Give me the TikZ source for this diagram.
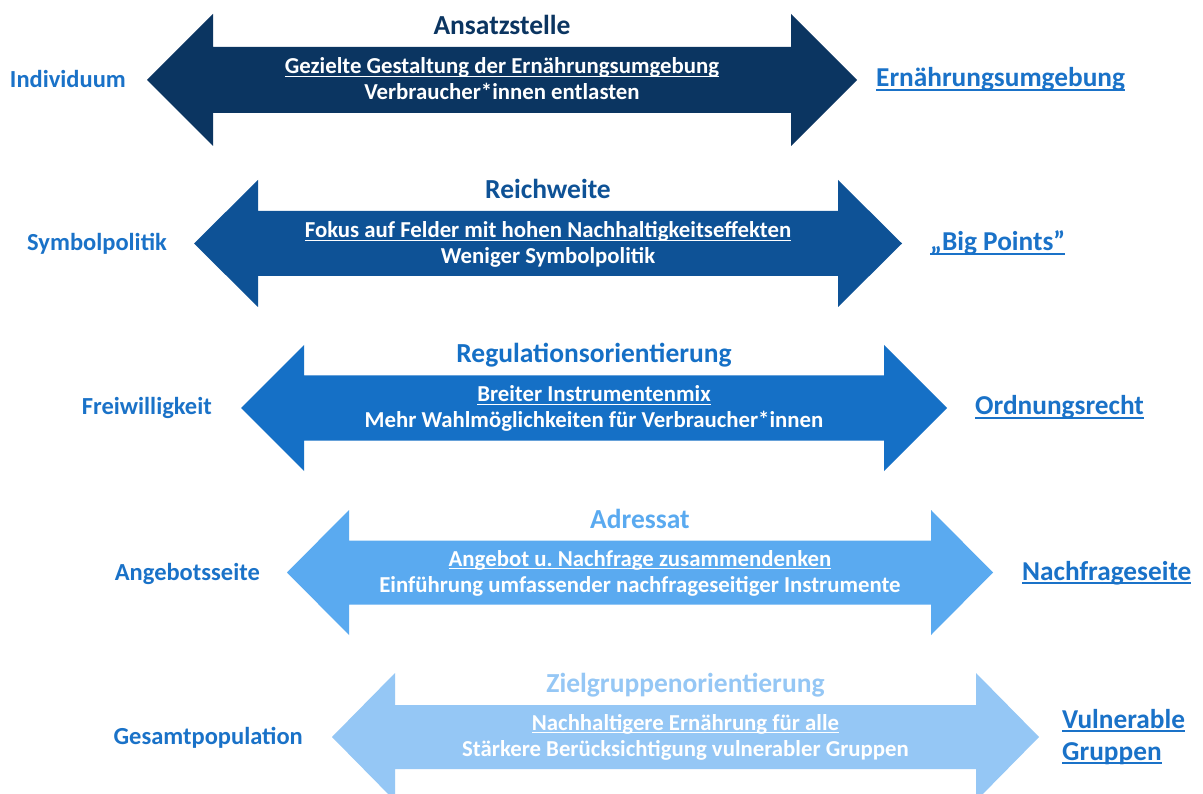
\documentclass[tikz,border=0pt]{standalone}
\usepackage{fontspec}
\setmainfont{Carlito}
\frenchspacing
\definecolor{cA}{HTML}{0B3561}
\definecolor{cB}{HTML}{0E5296}
\definecolor{cC}{HTML}{1570C6}
\definecolor{cD}{HTML}{5AAAF0}
\definecolor{cE}{HTML}{95C7F5}
\definecolor{sideblue}{HTML}{1A72C8}
\newcommand\myul[1]{\leavevmode\setbox0=\hbox{#1}\rlap{\rule[-0.14em]{\wd0}{0.065em}}\box0}
% #1 left tip x, #2 right tip x, #3 centre y, #4 head length, #5 head half height, #6 shaft half height, #7 colour
\newcommand\twoarrow[7]{%
  \fill[#7] (#1,#3) -- ({#1+#4},{#3-#5}) -- ({#1+#4},{#3-#6}) -- ({#2-#4},{#3-#6})
    -- ({#2-#4},{#3-#5}) -- (#2,#3) -- ({#2-#4},{#3+#5}) -- ({#2-#4},{#3+#6})
    -- ({#1+#4},{#3+#6}) -- ({#1+#4},{#3+#5}) -- cycle;}
\begin{document}
\begin{tikzpicture}[x=1pt,y=-1pt,
  titletext/.style={font=\bfseries\fontsize{27.5}{32}\selectfont, anchor=base, inner sep=0pt},
  bodytext/.style={text=white, font=\bfseries\fontsize{22.8}{26}\selectfont, anchor=base, inner sep=0pt},
  lefttext/.style={text=sideblue, font=\bfseries\fontsize{24.5}{29}\selectfont, anchor=base east, inner sep=0pt},
  righttext/.style={text=sideblue, font=\bfseries\fontsize{27.3}{32}\selectfont, anchor=base west, inner sep=0pt}]
\useasboundingbox (0,0) rectangle (1203,794);
\clip (0,0) rectangle (1203,794);
\fill[white] (0,0) rectangle (1203,794);

% arrows
\twoarrow{147}{857}{80}{66}{66}{33}{cA}
\twoarrow{194}{902}{243.5}{64}{63.5}{32.5}{cB}
\twoarrow{241}{947}{408}{63}{63}{32.5}{cC}
\twoarrow{287}{993}{572.5}{62}{62.5}{32}{cD}
\twoarrow{332}{1039}{737}{63}{64}{32}{cE}

% row 1
\node[titletext, text=cA] (t1) at (502,35) {Ansatzstelle};
\node[bodytext] (a1) at (502,74) {\myul{Gezielte Gestaltung der Ernährungsumgebung}};
\node[bodytext] (b1) at (502,100) {Verbraucher*innen entlasten};
\node[lefttext] (l1) at (126,88) {Individuum};
\node[righttext] (r1) at (876,87) {\myul{Ernährungsumgebung}};

% row 2
\node[titletext, text=cB] (t2) at (548,199) {Reichweite};
\node[bodytext] (a2) at (548,238) {\myul{Fokus auf Felder mit hohen Nachhaltigkeitseffekten}};
\node[bodytext] (b2) at (548,264) {Weniger Symbolpolitik};
\node[lefttext] (l2) at (167,251) {Symbolpolitik};
\node[righttext] (r2) at (930,251) {\myul{„Big Points”}};

% row 3
\node[titletext, text=cC] (t3) at (594,363) {Regulationsorientierung};
\node[bodytext] (a3) at (594,402) {\myul{Breiter Instrumentenmix}};
\node[bodytext] (b3) at (594,428) {Mehr Wahlmöglichkeiten für Verbraucher*innen};
\node[lefttext] (l3) at (212,415) {Freiwilligkeit};
\node[righttext] (r3) at (975,415) {\myul{Ordnungsrecht}};

% row 4
\node[titletext, text=cD] (t4) at (640,528) {Adressat};
\node[bodytext] (a4) at (640,566) {\myul{Angebot u. Nachfrage zusammendenken}};
\node[bodytext] (b4) at (640,592) {Einführung umfassender nachfrageseitiger Instrumente};
\node[lefttext] (l4) at (260,580) {Angebotsseite};
\node[righttext] (r4) at (1022,580) {\myul{Nachfrageseite}};

% row 5
\node[titletext, text=cE] (t5) at (685.5,692) {Zielgruppenorientierung};
\node[bodytext] (a5) at (685.5,730) {\myul{Nachhaltigere Ernährung für alle}};
\node[bodytext] (b5) at (685.5,756) {Stärkere Berücksichtigung vulnerabler Gruppen};
\node[lefttext] (l5) at (303,744) {Gesamtpopulation};
\node[righttext] (r5a) at (1062,728) {\myul{Vulnerable}};
\node[righttext] (r5b) at (1062,760) {\myul{Gruppen}};
\end{tikzpicture}
\end{document}
